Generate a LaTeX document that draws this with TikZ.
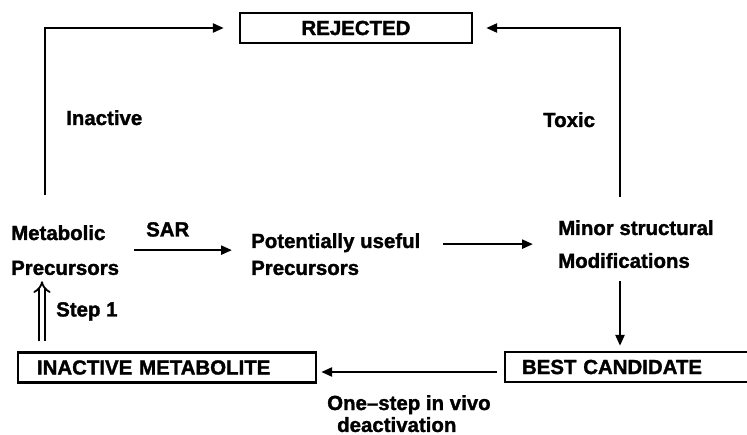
\documentclass[tikz,border=0pt]{standalone}
\usepackage{fontspec}
\setmainfont{Liberation Sans}[BoldFeatures={FakeBold=1.5}]
\usetikzlibrary{arrows.meta, positioning}
\tikzstyle{chart}=[x=1bp, y=-1bp, line width=2.4bp, >={Triangle[length=11bp,width=9bp]}]
\tikzstyle{txt}=[inner sep=0pt, anchor=north west, align=left, font=\bfseries\fontsize{20.5}{24}\selectfont]
\tikzstyle{outcome}=[draw, rectangle, inner sep=0pt, minimum height=30bp, font=\bfseries\fontsize{20.5}{24}\selectfont]

\begin{document}
\begin{tikzpicture}[chart]
  \clip (0,0) rectangle (747,435);

  % the three boxes
  \node[outcome, minimum width=232bp] (rej) at (356,28) {REJECTED};
  \node[outcome, minimum width=298bp, text width=260bp, align=left] (inact) at (167,367.5) {INACTIVE METABOLITE};
  \node[outcome, minimum width=255bp, text width=221bp, align=left] (best) at (632.5,367) {BEST CANDIDATE};

  % the stages
  \node[txt, font=\bfseries\fontsize{20.5}{35}\selectfont] (meta)   at (10,224)  {Metabolic\\Precursors};
  \node[txt, font=\bfseries\fontsize{20.5}{27}\selectfont] (potent) at (250,232) {Potentially useful\\Precursors};
  \node[txt, font=\bfseries\fontsize{20.5}{33}\selectfont] (minor)  at (557,219) {Minor structural\\Modifications};

  % labels
  \node[txt] (sar)    at (145,221) {SAR};
  \node[txt] (inactl) at (65,109)  {Inactive};
  \node[txt] (toxic)  at (542,111) {Toxic};
  \node[txt] (step)   at (55,301)  {Step 1};
  \node[txt, font=\bfseries\fontsize{20.5}{22}\selectfont] (deact) at (326,394) {One--step in vivo\\\hspace*{10bp}deactivation};

  \coordinate (inL)   at (45,195);
  \coordinate (toxR)  at (620,197);
  \coordinate (stepx) at (42,0);

  \draw[->, shorten >=15bp] (inL) |- (rej.west);
  \draw[->, shorten >=13bp] (toxR) |- (rej.east);
  \draw[->, shorten <=14bp, shorten >=18bp] (meta.east) -- (meta.east -| potent.west);
  \draw[->, shorten <=21bp, shorten >=24bp] (minor.west -| potent.east) -- (minor.west);
  \draw[->, shorten <=12bp, shorten >=5bp] (toxR |- minor.south) -- (toxR |- best.north);
  \draw[->, shorten <=7bp, shorten >=4bp] ([yshift=-5bp]best.west) -- ([yshift=-5bp]best.west -| inact.east);
  \draw[double, double distance=4bp, line width=1.8bp, -{Implies}, shorten <=10bp, shorten >=5bp]
    (stepx |- inact.north) -- (stepx |- meta.south);
\end{tikzpicture}
\end{document}
